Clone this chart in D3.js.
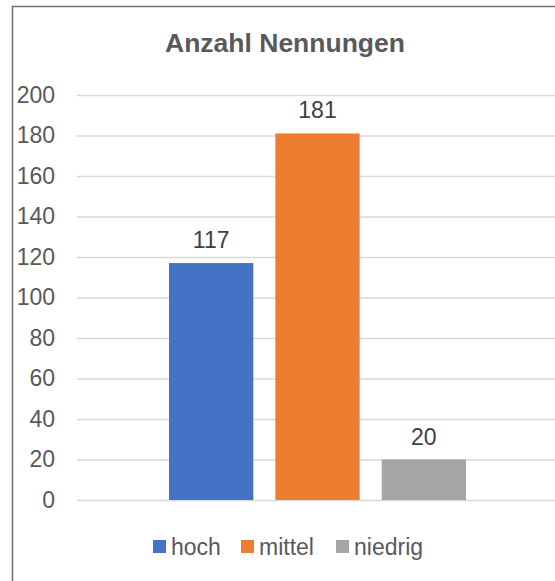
<!DOCTYPE html>
<html>
<head>
<meta charset="utf-8">
<script src="https://cdn.jsdelivr.net/npm/d3@7"></script>
<style>
  body { margin: 0; background: #fff; }
  text { font-family: "Liberation Sans", Arial, sans-serif; }
</style>
</head>
<body>
<div class="chart"></div>
<script>
// data
const series = ['hoch', 'mittel', 'niedrig'];
const values = [117, 181, 20];
const colors = ['#4472C4', '#ED7D31', '#A5A5A5'];
const yTicks = [0, 20, 40, 60, 80, 100, 120, 140, 160, 180, 200];
const title = 'Anzahl Nennungen';

const width = 555;
const height = 581;
const margin = {top: 95, right: 0, bottom: 81, left: 77};

const svg = d3.select('.chart')
  .append('svg')
  .attr('width', width)
  .attr('height', height);

// chart frame (right and bottom edges run off the picture)
svg.append('rect')
  .attr('x', 12.5)
  .attr('y', 6.5)
  .attr('width', width + 20)
  .attr('height', height + 20)
  .attr('fill', 'none')
  .attr('stroke', '#6f6f6f')
  .attr('stroke-width', 1.5);

const y = d3.scaleLinear()
  .domain([0, 200])
  .range([height - margin.bottom, margin.top]);

const x = d3.scaleBand()
  .domain(series)
  .range([169, 466])
  .paddingInner(0.207)
  .paddingOuter(0);

// gridlines
const yAxis = d3.axisLeft(y)
  .tickValues(yTicks)
  .tickSize(-(width - margin.left))
  .tickPadding(22);

const yAxisGroup = svg.append('g')
  .attr('class', 'y-axis')
  .attr('transform', `translate(${margin.left},0)`)
  .call(yAxis);

yAxisGroup.select('.domain').remove();
yAxisGroup.selectAll('line')
  .attr('stroke', '#d9d9d9')
  .attr('stroke-width', 1.3);
yAxisGroup.selectAll('text')
  .attr('fill', '#595959')
  .attr('font-size', 23)
  .attr('font-family', '"Liberation Sans", Arial, sans-serif');

// bars
const rows = series.map((s, i) => ({name: s, value: values[i], color: colors[i]}));

svg.selectAll('rect.bar')
  .data(rows)
  .enter()
  .append('rect')
  .attr('class', 'bar')
  .attr('x', d => x(d.name))
  .attr('y', d => y(d.value))
  .attr('width', x.bandwidth())
  .attr('height', d => y(0) - y(d.value))
  .attr('fill', d => d.color);

// data labels
svg.selectAll('text.label')
  .data(rows)
  .enter()
  .append('text')
  .attr('class', 'label')
  .attr('x', d => x(d.name) + x.bandwidth() / 2)
  .attr('y', d => y(d.value) - 15)
  .attr('text-anchor', 'middle')
  .attr('font-size', 23)
  .attr('fill', '#404040')
  .text(d => d.value);

// title
svg.append('text')
  .attr('x', 285)
  .attr('y', 52)
  .attr('text-anchor', 'middle')
  .attr('font-size', 26.5)
  .attr('font-weight', 'bold')
  .attr('fill', '#595959')
  .text(title);

// legend
const legendX = [153, 241, 336];
const legend = svg.selectAll('g.legend')
  .data(rows)
  .enter()
  .append('g')
  .attr('class', 'legend')
  .attr('transform', (d, i) => `translate(${legendX[i]},540)`);

legend.append('rect')
  .attr('width', 13)
  .attr('height', 13)
  .attr('fill', d => d.color);

legend.append('text')
  .attr('x', 18)
  .attr('y', 14.5)
  .attr('font-size', 23)
  .attr('fill', '#595959')
  .text(d => d.name);
</script>
</body>
</html>
